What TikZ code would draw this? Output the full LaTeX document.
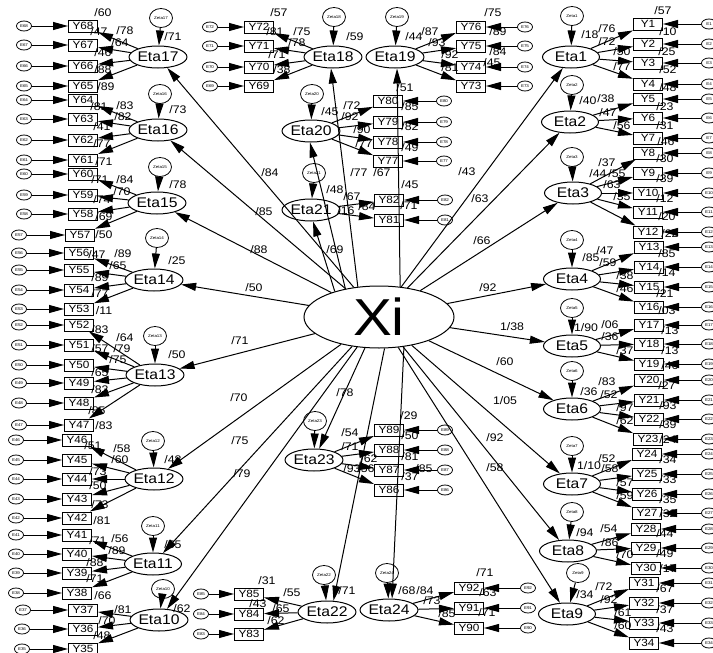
\documentclass[tikz,border=0pt]{standalone}
\usepackage{fontspec}
\setmainfont{Liberation Sans}[FakeStretch=1.12]
\usetikzlibrary{arrows.meta,shapes.geometric}
\tikzset{
  lat/.style={ellipse,draw,line width=1pt,minimum width=57pt,minimum height=22pt,inner sep=0pt,font=\fontsize{14}{14}\selectfont},
  xin/.style={ellipse,draw,line width=1pt,minimum width=150pt,minimum height=62pt,inner sep=0pt,font=\fontsize{52}{52}\selectfont},
  ind/.style={rectangle,draw,line width=1pt,minimum width=29pt,minimum height=12pt,inner sep=0pt,font=\fontsize{10.5}{10.5}\selectfont},
  errn/.style={ellipse,draw,line width=0.8pt,minimum width=15pt,minimum height=10pt,inner sep=0pt,font=\fontsize{4}{4}\selectfont},
  zet/.style={ellipse,draw,line width=0.8pt,minimum width=23pt,minimum height=19pt,inner sep=0pt,font=\fontsize{4}{4}\selectfont},
  lab/.style={inner sep=0pt,font=\fontsize{11}{11}\selectfont},
  arr/.style={-{Triangle[length=15pt,width=8pt]},line width=1pt},
}
\begin{document}
\begin{tikzpicture}[x=1pt,y=-1pt]
\fill[white] (0,0) rectangle (713,653);
\useasboundingbox (0,0) rectangle (713,653);
% central factor
\node[xin] (xi) at (379,317) {Xi};
% first-order factors and their disturbances
\foreach \e/\x/\y/\zx/\zy in {1/571/57/572/16, 2/570/122/572/85, 3/573/193/572/157,
  4/572/279/572/240, 5/572/346/572/308, 6/572/409/572/371, 7/572/484/572/446,
  8/568/551/572/512, 9/567/614/578/573, 10/159/620/163/589, 11/153/564/153/526,
  12/154/479/153/441, 13/155/375/155/336, 14/154/280/157/238, 15/157/203/160/167,
  16/158/130/160/94, 17/158/57/161/18, 18/333/57/334/17, 19/395/57/397/17,
  20/311/131/312/94, 21/311/210/314/173, 22/327/612/324/575, 23/314/460/315/421,
  24/389/610/387/573} {
  \node[lat] (e\e) at (\x,\y) {Eta\e};
  \node[zet] (z\e) at (\zx,\zy) {Zeta\e};
}
% indicators and their errors
\foreach \n/\x/\y/\ex in {1/648/24/709, 2/648/44/709, 3/648/63/709, 4/648/84/709,
  5/648/99/709, 6/648/118/709, 7/648/138/709, 8/648/153/709, 9/648/173/709,
  10/648/193/709, 11/648/212/709, 12/648/232/709, 13/649/247/709, 14/649/267/709,
  15/649/287/709, 16/649/307/709, 17/649/325/709, 18/649/344/709, 19/649/364/709,
  20/649/380/709, 21/649/400/709, 22/649/419/709, 23/648/439/709, 24/647/454/709,
  25/647/474/709, 26/647/494/709, 27/647/513/709, 28/646/529/709, 29/646/548/709,
  30/646/568/709, 31/644/583/709, 32/644/603/709, 33/644/623/709, 34/644/643/709,
  35/83/649/22, 36/83/629/22, 37/83/610/23, 38/77/593/16, 39/77/573/16, 40/77/554/16,
  41/77/535/16, 42/77/518/16, 43/77/499/16, 44/77/479/16, 45/77/460/16, 46/77/440/16,
  47/79/425/19, 48/79/403/19, 49/79/383/19, 50/79/365/19, 51/79/345/19, 52/79/325/19,
  53/79/309/19, 54/79/290/19, 55/79/270/19, 56/79/253/19, 57/80/235/19, 58/83/214/24,
  59/83/195/24, 60/83/174/24, 61/83/160/24, 62/83/140/24, 63/83/119/24, 64/83/100/24,
  65/83/86/24, 66/83/66/24, 67/83/45/24, 68/83/26/24,
  69/259/86/210, 70/259/67/210, 71/259/46/210, 72/259/27/210,
  73/471/86/525, 74/471/67/525, 75/471/46/525, 76/471/27/525,
  77/388/161/444, 78/388/142/444, 79/388/122/444, 80/388/101/444,
  81/389/220/445, 82/389/200/445, 83/249/634/201, 84/249/614/201, 85/249/594/201,
  86/389/490/445, 87/389/470/445, 88/389/450/445, 89/389/430/445,
  90/469/628/528, 91/469/608/528, 92/469/588/528} {
  \node[ind] (y\n) at (\x,\y) {Y\n};
  \node[errn] (err\n) at (\ex,\y) {E\n};
  \draw[arr] (err\n) -- (y\n);
}
% loadings
\foreach \e/\a/\b in {1/1/4, 2/5/7, 3/8/12, 4/13/16, 5/17/19, 6/20/23, 7/24/27,
  8/28/30, 9/31/34, 10/35/37, 11/38/41, 12/42/46, 13/47/52, 14/53/56, 15/57/60,
  16/61/64, 17/65/68, 18/69/72, 19/73/76, 20/77/80, 21/81/82, 22/83/85, 23/86/89,
  24/90/92} {
  \foreach \i in {\a,...,\b} { \draw[arr] (e\e) -- (y\i); }
}
% disturbances
\foreach \e in {1,...,24} { \draw[arr] (z\e) -- (e\e); }
% second-order paths
\foreach \e in {1,...,17,23} { \draw[arr] (xi) -- (e\e); }
\draw[arr] (xi.125) -- (e18.-100);
\draw[arr] (xi.55) -- (e19.-80);
\draw[arr] (xi.140) -- (e20.-95);
\draw[arr] (xi.150) -- (e21.-80);
\draw[arr] (xi.-80) -- (e22.60);
\draw[arr] (xi.-50) -- (e24.75);
% estimates
\foreach \t/\x/\y [count=\k] in {60/103/13, 47/99/32, 78/125/31, 64/120/43, 46/103/53,
  88/103/70, 89/106/87, 71/173/37,
  81/99/107, 83/125/106, 82/123/117, 41/102/127, 77/102/144, 71/104/162, 73/178/110,
  71/100/180, 84/125/180, 70/122/192, 74/102/200, 69/104/217, 78/178/185,
  50/104/235, 47/97/255, 89/123/254, 65/118/266, 89/100/278, 77/100/294, 11/104/311, 25/177/261,
  83/100/330, 64/125/338, 79/122/349, 57/100/349, 75/118/360, 65/100/373, 83/100/390,
  85/97/411, 83/104/426, 50/177/355,
  58/122/449, 51/93/446, 60/120/460, 73/98/472, 50/98/486, 73/100/505, 81/102/521, 48/173/460,
  71/98/541, 56/120/539, 89/117/551, 88/95/563, 71/95/579, 66/103/596, 55/173/545,
  81/123/610, 70/107/621, 48/102/636, 62/182/609,
  57/279/13, 81/275/32, 75/302/32, 78/297/43, 71/277/55, 38/282/70, 59/355/37,
  87/430/32, 44/414/37, 93/437/43, 92/450/55, 81/450/68, 75/493/13, 89/498/32, 84/498/52, 45/492/63,
  51/405/88, 72/352/106, 45/330/112, 92/350/117, 90/362/130, 77/364/144, 85/410/107,
  82/410/127, 49/410/148, 77/359/173, 67/382/173,
  48/335/190, 67/352/197, 84/367/207, 45/410/185, 71/409/206, 16/346/211,
  84/270/173, 85/264/212, 88/259/250, 50/254/288, 71/240/341, 70/239/398, 75/240/441,
  79/242/474, 69/335/250, 78/345/393, 43/467/172, 63/480/199, 66/482/241, 92/488/288,
  60/505/362, 92/495/438, 58/495/468,
  31/267/581, 55/292/593, 43/258/604, 65/281/609, 62/276/621, 71/347/591,
  68/407/591, 84/425/591, 73/432/601, 85/447/614, 71/485/573, 63/488/593, 71/487/613,
  54/350/433, 71/350/447, 62/369/459, 93/352/469, 56/366/469, 29/409/416, 50/410/436,
  81/410/457, 85/424/469, 37/410/477,
  76/607/29, 18/590/35, 72/607/42, 50/622/52, 77/622/67, 57/663/11, 10/668/32, 25/667/52,
  52/668/70, 48/668/88,
  40/588/101, 38/606/99, 47/608/113, 56/622/126, 23/665/107, 31/665/126, 46/666/142,
  37/607/163, 44/598/174, 55/617/174, 63/612/185, 35/622/197, 30/665/159, 39/665/179,
  12/665/199, 20/667/217,
  22/670/234, 85/591/258, 47/605/251, 59/608/263, 38/625/276, 46/625/289, 85/667/254,
  14/667/273, 21/665/294, 03/667/311,
  06/610/325, 36/610/337, 37/625/351, 13/670/331, 13/670/351, 46/670/366,
  36/589/392, 83/607/382, 52/609/395, 97/625/408, 62/625/421, 27/667/386, 93/668/406,
  39/668/425, 24/668/440,
  52/607/459, 58/610/469, 57/625/483, 59/625/496, 34/668/460, 33/668/480, 35/668/500, 32/668/514,
  94/585/533, 54/609/529, 86/610/543, 70/625/555, 44/665/534, 49/665/554, 17/668/569,
  34/585/595, 72/604/587, 92/609/600, 61/623/613, 60/623/626, 67/665/589, 37/665/610,
  43/665/629} {
  \node[lab] (est\k) at (\x,\y) {/\t};
}
\node[lab] (sp1) at (512,327) {1/38};
\node[lab] (sp2) at (505,401) {1/05};
\node[lab] (sp3) at (586,328) {1/90};
\node[lab] (sp4) at (589,466) {1/10};
\end{tikzpicture}
\end{document}
